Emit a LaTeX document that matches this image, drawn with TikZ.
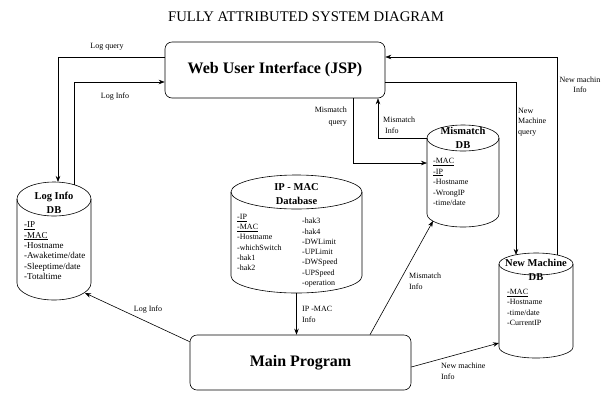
\documentclass[tikz,border=0pt]{standalone}
\usepackage{fontspec}
\setmainfont{Liberation Serif}
\usetikzlibrary{arrows.meta}

\begin{document}
\begin{tikzpicture}
[x=1pt,y=-1pt,
  lineDecorate/.style={-{Stealth[length=6pt,width=4.5pt]},line width=0.6pt},%
  boxDecorate/.style={shape=rectangle,rounded corners=7pt,draw,line width=0.6pt,
    font=\bfseries\fontsize{16}{18}\selectfont},
  bodyDecorate/.style={shape=rectangle,inner sep=0pt,outer sep=0pt},
  dbTitle/.style={font=\bfseries\fontsize{10.5}{14}\selectfont,align=center,inner sep=0pt},
  fieldText/.style={font=\fontsize{8}{10.4}\selectfont,align=left,anchor=north west,inner sep=0pt},
  labelText/.style={font=\fontsize{8}{10.5}\selectfont,inner sep=0pt}]
\useasboundingbox (0,0) rectangle (602,392);
%% title and boxes
\node (title) at (306,17) [font=\fontsize{14.7}{16}\selectfont] {FULLY ATTRIBUTED SYSTEM DIAGRAM};
\node (web) at (275,70) [boxDecorate,minimum width=220pt,minimum height=56pt] {Web User Interface (JSP)};
\node (main) at (300.5,362.5) [boxDecorate,minimum width=221pt,minimum height=55pt] {Main Program};
%% databases
\foreach \nodename/\x/\y/\rx/\dbh/\ry in {
  ldb/54/241/37/118/17, idb/296.5/234/65.5/118/17,
  mdb/463/176/36/102/13, ndb/536/305.5/37/105/11}
{
  \node (\nodename) at (\x,\y) [bodyDecorate,minimum width=2*\rx pt,minimum height=\dbh pt] {};
  \draw[line width=0.6pt] ([yshift=-\ry pt]\nodename.north) ellipse [x radius=\rx pt,y radius=\ry pt];
  \draw[line width=0.6pt] ([yshift=-\ry pt]\nodename.north west) -- ([yshift=\ry pt]\nodename.south west)
    arc [start angle=180,end angle=360,x radius=\rx pt,y radius=\ry pt] -- ([yshift=-\ry pt]\nodename.north east);
}
\node (ldbTitle) at (54,203) [dbTitle] {Log Info\\DB};
\node (idbTitle) at (296.5,194.5) [dbTitle] {IP - MAC\\Database};
\node (mdbTitle) at (463,138) [dbTitle] {Mismatch\\DB};
\node (ndbTitle) at (536,270) [dbTitle] {New Machine\\DB};
\node (ldbFields) at (24,221.5) [fieldText,font=\fontsize{9}{10.4}\selectfont] {\underline{-IP}\\\underline{-MAC}\\-Hostname\\-Awaketime/date\\-Sleeptime/date\\-Totaltime};
\node (idbFieldsA) at (237,214) [fieldText,font=\fontsize{8}{10.2}\selectfont] {\underline{-IP}\\\underline{-MAC}\\-Hostname\\-whichSwitch\\-hak1\\-hak2};
\node (idbFieldsB) at (302,218) [fieldText,font=\fontsize{8}{10.3}\selectfont] {-hak3\\-hak4\\-DWLimit\\-UPLimit\\-DWSpeed\\-UPSpeed\\-operation};
\node (mdbFields) at (433,158) [fieldText,font=\fontsize{8}{10.5}\selectfont] {\underline{-MAC}\\\underline{-IP}\\-Hostname\\-WrongIP\\-time/date};
\node (ndbFields) at (507,289) [fieldText,font=\fontsize{8}{10.3}\selectfont] {\underline{-MAC}\\-Hostname\\-time/date\\-CurrentIP};
%% edges or lines
\draw[lineDecorate] ([yshift=13pt]web.west) -| ([xshift=4pt]ldb.north);
\draw[lineDecorate] ([xshift=20pt,yshift=-3pt]ldb.north) |- ([yshift=-12pt]web.west);
\draw[lineDecorate] ([xshift=21pt,yshift=-2pt]ndb.north) |- ([yshift=13pt]web.east);
\draw[lineDecorate] ([yshift=-12pt]web.east) -| ([xshift=-20pt,yshift=-2pt]ndb.north);
\draw[lineDecorate] ([xshift=78pt]web.south) |- ([yshift=13pt]mdb.west);
\draw[lineDecorate] ([yshift=-13pt]mdb.north west) -| ([xshift=103pt]web.south);
\draw[lineDecorate] (idb.south) -- (idb.south |- main.north);
\draw[lineDecorate] ([yshift=-7pt]main.north west) -- ([xshift=-6pt,yshift=7pt]ldb.south east);
\draw[lineDecorate] ([xshift=69.5pt]main.north) -- ([xshift=-30pt,yshift=6pt]mdb.south);
\draw[lineDecorate] ([yshift=-4.5pt]main.east) -- ([yshift=15pt]ndb.south west);
%% labels
\node (lblLogQuery) at (107,47) [labelText] {Log query};
\node (lblLogInfo) at (115,97) [labelText] {Log Info};
\node (lblNewInfo) at (580,85) [labelText,align=center] {New machin\\Info};
\node (lblNewQuery) at (518,108) [labelText,align=left,anchor=north west] {New\\Machine\\query};
\node (lblMisQuery) at (347,107) [labelText,align=right,anchor=north east,font=\fontsize{8}{11.5}\selectfont] {Mismatch\\query};
\node (lblMisInfo) at (383,117) [labelText,align=left,anchor=north west] {Mismatch\\\ Info};
\node (lblIpMac) at (302,306) [labelText,align=left,anchor=north west] {IP -MAC\\Info};
\node (lblLogInfoB) at (148,310) [labelText] {Log Info};
\node (lblMisInfoB) at (409,273) [labelText,align=left,anchor=north west] {Mismatch\\Info};
\node (lblNewInfoB) at (441,363) [labelText,align=left,anchor=north west] {New machine\\Info};
\end{tikzpicture}
\end{document}
